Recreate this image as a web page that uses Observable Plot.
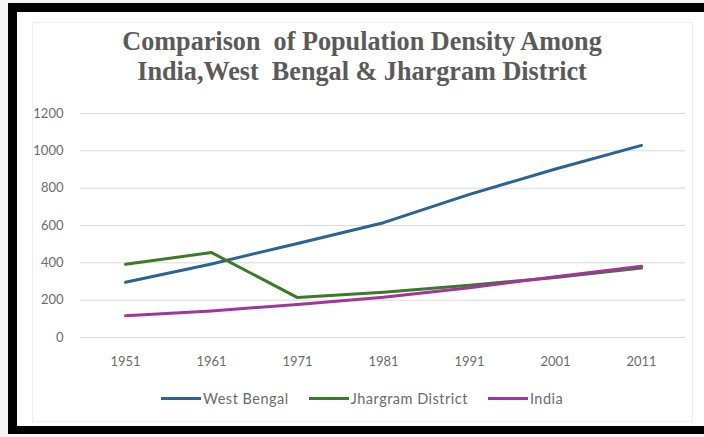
<!DOCTYPE html>
<html>
<head>
<meta charset="utf-8">
<script src="https://cdn.jsdelivr.net/npm/d3@7"></script>
<script src="https://cdn.jsdelivr.net/npm/@observablehq/plot@0.6"></script>
<style>
  html { background: #f4f4f4; }
  html, body { margin: 0; padding: 0; width: 704px; height: 437px; overflow: hidden; }
  body { background: #f4f4f4; position: relative; }
  #frame { position: absolute; left: 8px; top: 3px; width: 660px; height: 414px;
    border-left: 9px solid #000; border-top: 9px solid #000; border-bottom: 8px solid #000; background: #fff; }
  #frame2 { position: absolute; left: 677px; top: 3px; width: 27px; height: 414px;
    border-top: 9px solid #000; border-bottom: 8px solid #000; background: #fff; }
  #inner { position: absolute; left: 32px; top: 22px; width: 659px; height: 398px; border: 1px solid #eeeeee; }
  #title { position: absolute; left: 32px; width: 660px; top: 26px; text-align: center;
    font-family: "Liberation Serif", "Times New Roman", serif; font-weight: bold; font-size: 27px;
    line-height: 30px; color: #5a5a5a; transform: scaleX(0.97); transform-origin: 330px 0; white-space: nowrap; }
  #chart { position: absolute; left: 0; top: 95px; }
  #legend { position: absolute; top: 390px; left: 161px; display: flex; align-items: center;
    font-family: Lato, "Open Sans", sans-serif; font-size: 14.5px; letter-spacing: 0.5px; color: #6b6b6b; }
  .item { display: flex; align-items: center; margin-right: 20px; }
  .sw { width: 40px; height: 3px; margin-right: 2px; }
</style>
</head>
<body>
<div id="frame"></div>
<div id="frame2"></div>
<div id="inner"></div>
<div id="title">Comparison&nbsp; of Population Density Among<br>India,West&nbsp; Bengal &amp; Jhargram District</div>
<div id="chart"></div>
<div id="legend"></div>
<script>
const years = ["1951", "1961", "1971", "1981", "1991", "2001", "2011"];
const seriesNames = ["West Bengal", "Jhargram District", "India"];
const westBengal = [296, 394, 504, 615, 767, 903, 1029];
const jhargram = [392, 455, 214, 242, 280, 322, 372];
const india = [117, 142, 177, 216, 267, 325, 382];
const yTicks = [0, 200, 400, 600, 800, 1000, 1200];
const colors = ["#2b6392", "#3a7a28", "#a3349c"];

const valuesBySeries = [westBengal, jhargram, india];
const data = [];
seriesNames.forEach((s, i) => years.forEach((y, j) => data.push({series: s, year: y, value: valuesBySeries[i][j]})));

const plot = Plot.plot({
  width: 704,
  height: 300,
  marginLeft: 80,
  marginRight: 19,
  marginTop: 18,
  marginBottom: 58,
  style: {background: "transparent", fontFamily: "Lato, 'Open Sans', sans-serif", fontSize: "13px", color: "#6b6b6b"},
  x: {type: "point", domain: years, padding: 0.5},
  y: {domain: [0, 1200], ticks: yTicks},
  color: {domain: seriesNames, range: colors},
  marks: [
    Plot.gridY(yTicks, {stroke: "#d9d9d9", strokeOpacity: 1, strokeWidth: 1}),
    Plot.axisY(yTicks, {tickSize: 0, tickPadding: 17, label: null, fill: "#6b6b6b", tickFormat: d => String(d)}),
    Plot.axisX({tickSize: 0, tickPadding: 19, label: null, fill: "#6b6b6b"}),
    Plot.line(data, {x: "year", y: "value", z: "series", stroke: "series", strokeWidth: 3, strokeLinejoin: "round", strokeLinecap: "round"})
  ]
});
document.getElementById("chart").appendChild(plot);

const legend = document.getElementById("legend");
seriesNames.forEach((s, i) => {
  const it = document.createElement("div");
  it.className = "item";
  const sw = document.createElement("div");
  sw.className = "sw";
  sw.style.background = colors[i];
  const t = document.createElement("span");
  t.textContent = s;
  it.appendChild(sw); it.appendChild(t);
  legend.appendChild(it);
});
</script>
</body>
</html>
